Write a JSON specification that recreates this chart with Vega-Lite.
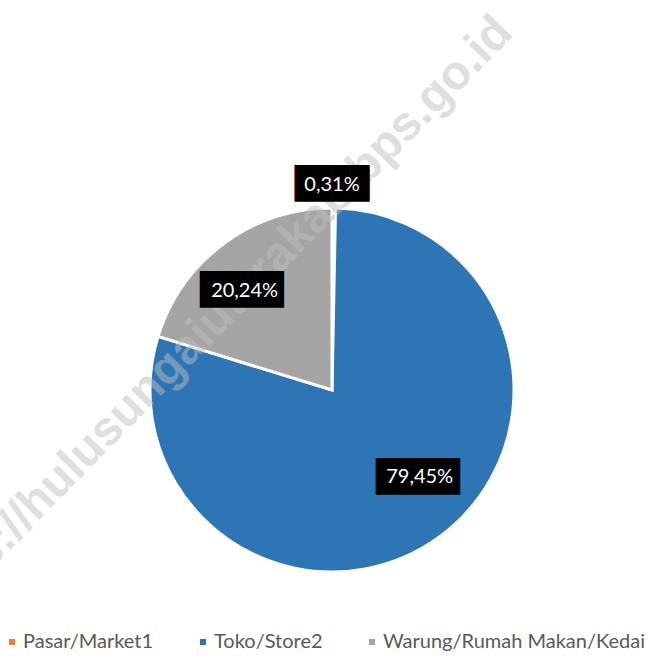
{
  "$schema": "https://vega.github.io/schema/vega-lite/v6.json",
  "width": 664,
  "height": 460,
  "autosize": {"type": "none"},
  "padding": {"top": 160, "left": 0, "right": 0, "bottom": 45},
  "background": "white",
  "config": {"view": {"stroke": null}},
  "data": {"values": [
    {"cat": "Pasar/Market1", "value": 0.31, "label": "0,31%"},
    {"cat": "Toko/Store2", "value": 79.45, "label": "79,45%"},
    {"cat": "Warung/Rumah Makan/Kedai", "value": 20.24, "label": "20,24%"}
  ]},
  "layer": [
    {
      "mark": {"type": "arc", "outerRadius": 182, "stroke": "white", "strokeWidth": 3},
      "encoding": {
        "theta": {"field": "value", "type": "quantitative", "stack": true},
        "order": {"field": "cat", "type": "nominal", "sort": "ascending"},
        "detail": {"field": "cat", "type": "nominal"},
        "color": {
          "field": "cat", "type": "nominal",
          "scale": {"domain": ["Pasar/Market1", "Toko/Store2", "Warung/Rumah Makan/Kedai"], "range": ["#ED7D31", "#2E75B6", "#A5A5A5"]},
          "legend": {"title": null, "orient": "none", "legendX": 2, "legendY": 472, "padding": 0, "direction": "horizontal", "symbolType": "square", "symbolSize": 56, "labelFont": "Lato", "labelFontSize": 20, "labelColor": "#595959", "labelLimit": 400, "columnPadding": 39, "labelOffset": 1}
        }
      }
    },
    {
      "data": {"values": [{"t": "https://hulusungaiutarakab.bps.go.id"}]},
      "mark": {"type": "text", "font": "Liberation Sans", "fontWeight": "bold", "fontSize": 48, "angle": -45.6, "color": "#bebebe", "opacity": 0.48, "align": "center", "baseline": "middle", "radius": 138, "theta": -1.087},
      "encoding": {"text": {"field": "t", "type": "nominal"}}
    },
    {
      "mark": {"type": "text", "font": "DejaVu Sans Mono", "fontSize": 31, "color": "black", "align": "center", "baseline": "middle", "radius": 205, "dx": -2, "dy": 0},
      "encoding": {
        "theta": {"field": "value", "type": "quantitative", "stack": true},
        "order": {"field": "cat", "type": "nominal", "sort": "ascending"},
        "detail": {"field": "cat", "type": "nominal"},
        "text": {"condition": {"test": "datum.cat === 'Pasar/Market1'", "value": "████"}, "value": ""}
      }
    },
    {
      "mark": {"type": "text", "font": "DejaVu Sans Mono", "fontSize": 31, "color": "black", "align": "center", "baseline": "middle", "radius": 132, "dx": -7, "dy": 7},
      "encoding": {
        "theta": {"field": "value", "type": "quantitative", "stack": true},
        "order": {"field": "cat", "type": "nominal", "sort": "ascending"},
        "detail": {"field": "cat", "type": "nominal"},
        "text": {"condition": {"test": "datum.cat === 'Warung/Rumah Makan/Kedai'", "value": "████▌"}, "value": ""}
      }
    },
    {
      "mark": {"type": "text", "font": "DejaVu Sans Mono", "fontSize": 31, "color": "black", "align": "center", "baseline": "middle", "radius": 124, "dx": 18, "dy": -12},
      "encoding": {
        "theta": {"field": "value", "type": "quantitative", "stack": true},
        "order": {"field": "cat", "type": "nominal", "sort": "ascending"},
        "detail": {"field": "cat", "type": "nominal"},
        "text": {"condition": {"test": "datum.cat === 'Toko/Store2'", "value": "████▌"}, "value": ""}
      }
    },
    {
      "mark": {"type": "text", "font": "Lato", "fontSize": 20, "color": "white", "align": "center", "baseline": "middle", "radius": 205, "dx": -2, "dy": 0},
      "encoding": {
        "theta": {"field": "value", "type": "quantitative", "stack": true},
        "order": {"field": "cat", "type": "nominal", "sort": "ascending"},
        "detail": {"field": "cat", "type": "nominal"},
        "text": {"condition": {"test": "datum.cat === 'Pasar/Market1'", "field": "label"}, "value": ""}
      }
    },
    {
      "mark": {"type": "text", "font": "Lato", "fontSize": 20, "color": "white", "align": "center", "baseline": "middle", "radius": 132, "dx": -9, "dy": 7},
      "encoding": {
        "theta": {"field": "value", "type": "quantitative", "stack": true},
        "order": {"field": "cat", "type": "nominal", "sort": "ascending"},
        "detail": {"field": "cat", "type": "nominal"},
        "text": {"condition": {"test": "datum.cat === 'Warung/Rumah Makan/Kedai'", "field": "label"}, "value": ""}
      }
    },
    {
      "mark": {"type": "text", "font": "Lato", "fontSize": 20, "color": "white", "align": "center", "baseline": "middle", "radius": 124, "dx": 15, "dy": -13},
      "encoding": {
        "theta": {"field": "value", "type": "quantitative", "stack": true},
        "order": {"field": "cat", "type": "nominal", "sort": "ascending"},
        "detail": {"field": "cat", "type": "nominal"},
        "text": {"condition": {"test": "datum.cat === 'Toko/Store2'", "field": "label"}, "value": ""}
      }
    }
  ]
}
